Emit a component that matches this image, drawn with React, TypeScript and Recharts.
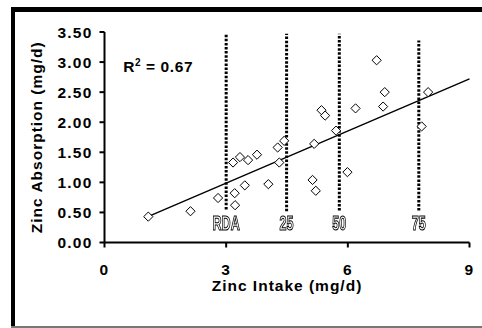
import React from 'react';
import { ScatterChart, Scatter, XAxis, YAxis, ReferenceLine } from 'recharts';

// Observed zinc intake (mg/d) vs zinc absorption (mg/d)
const intake = [1.08, 2.12, 2.80, 3.21, 3.22, 3.46, 4.04, 3.17, 3.34, 3.54, 3.76, 4.27, 4.43, 4.31, 5.13, 5.21, 5.17, 5.35, 5.44, 5.71, 5.99, 6.19, 6.71, 6.91, 6.87, 7.82, 7.98];
const absorption = [0.43, 0.52, 0.74, 0.82, 0.62, 0.95, 0.97, 1.33, 1.42, 1.37, 1.46, 1.58, 1.69, 1.33, 1.04, 0.86, 1.64, 2.2, 2.11, 1.86, 1.17, 2.23, 3.03, 2.5, 2.26, 1.93, 2.5];

// Linear trendline endpoints
const trendStart = { x: 1.1, y: 0.44 };
const trendEnd = { x: 9.0, y: 2.72 };

// Dotted percentile markers
const markerNames = ['RDA', '25', '50', '75'];
const markerX = [3.0, 4.49, 5.79, 7.75];
const markerTop = [3.47, 3.47, 3.47, 3.36];
const markerBottom = [0.55, 0.52, 0.53, 0.53];
const markerLabelY = 0.2;

const xTicks = [0, 3, 6, 9];
const yTicks = [0, 0.5, 1, 1.5, 2, 2.5, 3, 3.5];

const r2Text = { x: 0.46, y: 2.83, value: '0.67' };

const points = intake.map((x, i) => ({ x, y: absorption[i] }));
const markerLabels = markerNames.map((name, i) => ({ x: markerX[i], y: markerLabelY, name }));
const r2Data = [r2Text];

const FONT = '"Liberation Sans", Arial, Helvetica, sans-serif';

const Diamond = (props: any) => {
  const { cx, cy } = props;
  if (cx == null || cy == null) return <g />;
  const r = 4.6;
  return (
    <path
      d={`M${cx},${cy - r}L${cx + r},${cy}L${cx},${cy + r}L${cx - r},${cy}Z`}
      fill="#fff"
      stroke="#000"
      strokeWidth={1}
    />
  );
};

const MarkerLabel = (props: any) => {
  const { cx, cy, payload } = props;
  if (cx == null || cy == null) return <g />;
  return (
    <g filter="url(#grayText)">
      <text
        transform={`translate(${cx},${cy}) scale(0.6,1)`}
        textAnchor="middle"
        fontFamily={FONT}
        fontWeight="bold"
        fontSize={21}
        style={{ fill: '#ffffff', stroke: '#000000', strokeWidth: 1.1 }}
      >
        {payload.name}
      </text>
    </g>
  );
};

const R2Label = (props: any) => {
  const { cx, cy, payload } = props;
  if (cx == null || cy == null) return <g />;
  return (
    <text x={cx} y={cy} fontFamily={FONT} fontWeight="bold" fontSize={15.5} fill="#000" letterSpacing={0.6}>
      R
      <tspan dy={-6} fontSize={10}>2</tspan>
      <tspan dy={6}>{` = ${payload.value}`}</tspan>
    </text>
  );
};

const tickStyle = { fontFamily: FONT, fontWeight: 'bold', fontSize: 15.5, fill: '#000', letterSpacing: 1.2 } as any;

export default function App() {
  return (
    <div style={{ position: 'absolute', left: 0, top: 0, width: 482, height: 328, background: '#fff', overflow: 'hidden' }}>
      <svg width={0} height={0} style={{ position: 'absolute' }}>
        <defs>
          <filter id="grayText" x="-20%" y="-20%" width="140%" height="140%">
            <feColorMatrix type="saturate" values="0" />
          </filter>
        </defs>
      </svg>
      <ScatterChart width={482} height={328} margin={{ top: 32, right: 12.5, bottom: 45.5, left: 0 }}>
        <XAxis
          type="number"
          dataKey="x"
          domain={[0, 9]}
          ticks={xTicks}
          height={40}
          stroke="#000"
          strokeWidth={2}
          tickSize={5}
          tickMargin={16}
          tick={tickStyle}
          tickLine={{ stroke: '#000', strokeWidth: 2 }}
          allowDataOverflow
          label={{
            content: (p: any) => (
              <text
                x={p.viewBox.x + p.viewBox.width / 2}
                y={p.viewBox.y + 48.5}
                textAnchor="middle"
                fontFamily={FONT}
                fontWeight="bold"
                fontSize={15.5}
                letterSpacing={1}
                fill="#000"
              >
                Zinc Intake (mg/d)
              </text>
            ),
          }}
        />
        <YAxis
          type="number"
          dataKey="y"
          domain={[0, 3.5]}
          ticks={yTicks}
          width={104.5}
          stroke="#000"
          strokeWidth={2}
          tickSize={5}
          tickMargin={7}
          tick={tickStyle}
          tickLine={{ stroke: '#000', strokeWidth: 2 }}
          tickFormatter={(v: number) => v.toFixed(2)}
          allowDataOverflow
          label={{
            content: (p: any) => {
              const cy = p.viewBox.y + p.viewBox.height / 2;
              return (
                <text
                  x={36}
                  y={cy}
                  transform={`rotate(-90, 36, ${cy})`}
                  textAnchor="middle"
                  dominantBaseline="central"
                  fontFamily={FONT}
                  fontWeight="bold"
                  fontSize={15.5}
                  letterSpacing={1}
                  fill="#000"
                >
                  Zinc Absorption (mg/d)
                </text>
              );
            },
          }}
        />
        {markerX.map((x, i) => (
          <ReferenceLine
            key={markerNames[i]}
            segment={[{ x, y: markerBottom[i] }, { x, y: markerTop[i] }]}
            stroke="#000"
            strokeWidth={3}
            strokeDasharray="2.5 1.6"
          />
        ))}
        <Scatter data={points} shape={<Diamond />} isAnimationActive={false} />
        <ReferenceLine segment={[trendStart, trendEnd]} stroke="#000" strokeWidth={1.4} />
        <Scatter data={markerLabels} shape={<MarkerLabel />} isAnimationActive={false} />
        <Scatter data={r2Data} shape={<R2Label />} isAnimationActive={false} />
      </ScatterChart>
      <div style={{ position: 'absolute', left: 11, top: 7, width: 471, height: 5, background: '#000' }} />
      <div style={{ position: 'absolute', left: 11, top: 7, width: 4, height: 321, background: '#000' }} />
      <div style={{ position: 'absolute', left: 11, top: 326, width: 471, height: 2, background: '#777' }} />
    </div>
  );
}
